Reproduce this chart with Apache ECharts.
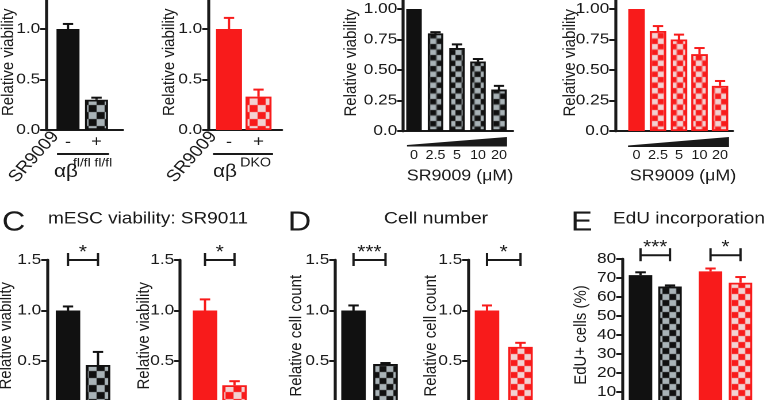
<!DOCTYPE html>
<html>
<head>
<meta charset="utf-8">
<script src="https://cdn.jsdelivr.net/npm/echarts@6.0.0/dist/echarts.min.js"></script>
<style>
  html, body { margin: 0; padding: 0; background: #fff; overflow: hidden; }
  /* the source figure is stretched a little horizontally, so the chart is drawn narrower and scaled */
  #main { width: 670px; height: 400px; transform: scaleX(1.15); transform-origin: 0 0; }
</style>
</head>
<body>
<div id="main"></div>
<script>
// ---- data ----
var aCats = ['-', '+'];
var aFlMean = [1.00, 0.30];
var aFlErr  = [0.05, 0.02];
var aDkoMean = [1.00, 0.33];
var aDkoErr  = [0.11, 0.07];

var bDoses = ['0', '2.5', '5', '10', '20'];
var bFlMean = [1.00, 0.80, 0.68, 0.57, 0.34];
var bFlErr  = [0, 0.01, 0.03, 0.02, 0.03];
var bDkoMean = [1.00, 0.82, 0.75, 0.63, 0.37];
var bDkoErr  = [0, 0.04, 0.04, 0.05, 0.04];

var cFlMean = [1.00, 0.46];
var cFlErr  = [0.04, 0.13];
var cDkoMean = [1.00, 0.26];
var cDkoErr  = [0.11, 0.04];

var dFlMean = [1.00, 0.47];
var dFlErr  = [0.05, 0.01];
var dDkoMean = [1.00, 0.64];
var dDkoErr  = [0.05, 0.04];

var eMean = [71.5, 65.5, 73.5, 67.5];
var eErr  = [1.5, 0.6, 1.5, 3.0];

var cSig = ['*', '*'];
var dSig = ['***', '*'];
var eSig = ['***', '*'];

// ---- style ----
var S = 1.15;
function X(px) { return px / S; }
var FONT = '"Liberation Sans", Arial, Helvetica, sans-serif';
var INK = '#1a1a1a';
var K = {dark: '#111111', light: '#a9b3b7'};
var R = {dark: '#f81b1b', light: '#f2d2d2'};

function checker(tint, size) {
  var c = document.createElement('canvas');
  c.width = c.height = size * 2;
  var g = c.getContext('2d');
  g.fillStyle = tint.light; g.fillRect(0, 0, size * 2, size * 2);
  g.fillStyle = tint.dark;
  g.fillRect(0, 0, size, size);
  g.fillRect(size, size, size, size);
  return c;
}

var f1 = function (v) { return v.toFixed(1); };
var f2 = function (v) { return v === 0 ? '0.0' : v.toFixed(2); };
var f0 = function (v) { return String(v); };

// panel layout (pixel positions of the reference figure)
var panels = [
  {left: 46, right: 123, top: -21.5, bottom: 130, max: 1.5, step: 0.5, fmt: f1,
   centers: [68, 96.5], barW: 23, tints: [K, K], checks: [0, 1], sq: 7,
   mean: aFlMean, err: aFlErr, yName: 'Relative viability', nameGap: 29, nameShift: 8,
   xCats: aCats, xSize: 16, xMargin: 4},
  {left: 208, right: 282, top: -21.5, bottom: 130, max: 1.5, step: 0.5, fmt: f1,
   centers: [229, 258.5], barW: 26, tints: [R, R], checks: [0, 1], sq: 7,
   mean: aDkoMean, err: aDkoErr, yName: 'Relative viability', nameGap: 30, nameShift: 8,
   xCats: aCats, xSize: 16, xMargin: 4},
  {left: 403, right: 513, top: -21.5, bottom: 131, max: 1.25, step: 0.25, fmt: f2,
   centers: [414, 435.5, 457, 478, 499], barW: 15.5, tints: [K, K, K, K, K], checks: [0, 1, 1, 1, 1], sq: 5.5,
   mean: bFlMean, err: bFlErr, yName: 'Relative viability', nameGap: 43, nameShift: 8,
   xCats: bDoses, xSize: 12.5, xMargin: 18, xName: 'SR9009 (\u03bcM)', xNameShift: 2},
  {left: 615, right: 733, top: -21.5, bottom: 131, max: 1.25, step: 0.25, fmt: f2,
   centers: [636.5, 658, 679, 699.5, 720], barW: 16.5, tints: [R, R, R, R, R], checks: [0, 1, 1, 1, 1], sq: 5.5,
   mean: bDkoMean, err: bDkoErr, yName: 'Relative viability', nameGap: 36, nameShift: 8,
   xCats: bDoses, xSize: 12.5, xMargin: 18, xName: 'SR9009 (\u03bcM)', xNameShift: 9},
  {left: 47, right: 123, top: 260, bottom: 411.5, max: 1.5, step: 0.5, fmt: f1,
   centers: [68, 98], barW: 24.5, tints: [K, K], checks: [0, 1], sq: 7,
   mean: cFlMean, err: cFlErr, yName: 'Relative viability', nameGap: 32, nameShift: 0,
   sig: {pairs: [[0, 1]], labels: [cSig[0]], level: 1.5}},
  {left: 180, right: 260, top: 260, bottom: 411.5, max: 1.5, step: 0.5, fmt: f1,
   centers: [205, 234.5], barW: 24.5, tints: [R, R], checks: [0, 1], sq: 7,
   mean: cDkoMean, err: cDkoErr, yName: 'Relative viability', nameGap: 27, nameShift: 0,
   sig: {pairs: [[0, 1]], labels: [cSig[1]], level: 1.5}},
  {left: 335, right: 410, top: 260, bottom: 411.5, max: 1.5, step: 0.5, fmt: f1,
   centers: [353.5, 385.5], barW: 24.5, tints: [K, K], checks: [0, 1], sq: 6,
   mean: dFlMean, err: dFlErr, yName: 'Relative cell count', nameGap: 30, nameShift: 0,
   sig: {pairs: [[0, 1]], labels: [dSig[0]], level: 1.5}},
  {left: 468, right: 545, top: 260, bottom: 411.5, max: 1.5, step: 0.5, fmt: f1,
   centers: [487, 520.5], barW: 24.5, tints: [R, R], checks: [0, 1], sq: 6,
   mean: dDkoMean, err: dDkoErr, yName: 'Relative cell count', nameGap: 28, nameShift: 0,
   sig: {pairs: [[0, 1]], labels: [dSig[1]], level: 1.5}},
  {left: 622, right: 763, top: 259, bottom: 411, max: 80, step: 10, fmt: f0,
   centers: [640.5, 670, 710.5, 740.5], barW: 23.5, tints: [K, K, R, R], checks: [0, 1, 0, 1], sq: 6,
   mean: eMean, err: eErr, yName: 'EdU+ cells (%)', nameGap: 32, nameShift: 0,
   sig: {pairs: [[0, 1], [2, 3]], labels: eSig, level: 82}}
];

function errItem(params, api) {
  var x = api.value(0);
  var p0 = api.coord([x, api.value(1)]);
  var p1 = api.coord([x, api.value(2)]);
  var c = api.visual('color');
  return {type: 'group', children: [
    {type: 'line', shape: {x1: p0[0], y1: p0[1], x2: p1[0], y2: p1[1]}, style: {stroke: c, lineWidth: 2}},
    {type: 'line', shape: {x1: p1[0] - 4.5, y1: p1[1], x2: p1[0] + 4.5, y2: p1[1]}, style: {stroke: c, lineWidth: 2}}
  ]};
}

var grids = [], xAxes = [], yAxes = [], series = [];

panels.forEach(function (p, i) {
  var offs = p.centers.map(function (c) { return c - p.left; });

  grids.push({left: X(p.left), top: p.top, width: X(p.right - p.left), height: p.bottom - p.top,
    containLabel: false, outerBoundsMode: 'none'});

  xAxes.push({
    gridIndex: i, type: 'value', min: 0, max: p.right - p.left,
    axisLine: {show: true, onZero: false, lineStyle: {color: INK, width: 2}},
    axisTick: {show: false}, splitLine: {show: false},
    axisLabel: {
      show: !!p.xCats, customValues: offs, margin: p.xMargin || 8,
      color: INK, fontSize: p.xSize || 14, fontFamily: FONT,
      formatter: function (v) {
        var best = -1, d = 1e9;
        offs.forEach(function (o, k) { if (Math.abs(o - v) < d) { d = Math.abs(o - v); best = k; } });
        return d < 0.5 && p.xCats ? p.xCats[best] : '';
      }
    },
    name: p.xName || '', nameLocation: 'middle', nameGap: 37, nameMoveOverlap: false,
    nameTextStyle: {color: INK, fontSize: 15.5, fontFamily: FONT,
      padding: [0, 0, 0, 2 * X(p.xNameShift || 0)]}
  });

  yAxes.push({
    gridIndex: i, type: 'value', min: 0, max: p.max, interval: p.step,
    axisLine: {show: true, lineStyle: {color: INK, width: 2.6}},
    axisTick: {show: true, length: 5, lineStyle: {color: INK, width: 2}},
    axisLabel: {color: INK, fontSize: 15, fontFamily: FONT, margin: 5, formatter: p.fmt},
    splitLine: {show: false},
    name: p.yName, nameLocation: 'middle', nameRotate: 90, nameGap: X(p.nameGap), nameMoveOverlap: false,
    nameTextStyle: {color: INK, fontSize: 15, fontFamily: FONT, padding: [0, 2 * p.nameShift, 0, 0]}
  });

  series.push({
    type: 'bar', xAxisIndex: i, yAxisIndex: i, barWidth: X(p.barW), silent: true,
    data: p.mean.map(function (v, k) {
      var t = p.tints[k];
      var style = p.checks[k]
        ? {color: {image: checker(t, p.sq), repeat: 'repeat'}, borderColor: t.dark, borderWidth: 1.8}
        : {color: t.dark, borderWidth: 0};
      return {value: [offs[k], v], itemStyle: style};
    })
  });

  series.push({
    type: 'custom', xAxisIndex: i, yAxisIndex: i, z: 4, silent: true,
    encode: {x: 0, y: [1, 2]}, renderItem: errItem,
    data: p.mean.map(function (v, k) {
      return {value: [offs[k], v, v + p.err[k]], itemStyle: {color: p.tints[k].dark}};
    }).filter(function (d, k) { return p.err[k] > 0; })
  });

  if (p.sig) {
    var labels = p.sig.labels;
    series.push({
      type: 'custom', xAxisIndex: i, yAxisIndex: i, z: 5, silent: true,
      encode: {x: [0, 1], y: 2},
      data: p.sig.pairs.map(function (pr) { return [offs[pr[0]], offs[pr[1]], p.sig.level]; }),
      renderItem: function (params, api) {
        var y = api.value(2);
        var a = api.coord([api.value(0), y]);
        var b = api.coord([api.value(1), y]);
        var st = {stroke: INK, lineWidth: 2};
        return {type: 'group', children: [
          {type: 'line', shape: {x1: a[0], y1: a[1], x2: b[0], y2: b[1]}, style: st},
          {type: 'line', shape: {x1: a[0], y1: a[1] - 7, x2: a[0], y2: a[1] + 6}, style: st},
          {type: 'line', shape: {x1: b[0], y1: b[1] - 7, x2: b[0], y2: b[1] + 6}, style: st},
          {type: 'text', x: (a[0] + b[0]) / 2, y: a[1] - 7,
           style: {text: labels[params.dataIndex], fontSize: 18, fontFamily: FONT, fill: INK,
                   align: 'center', verticalAlign: 'middle', textAlign: 'center', textVerticalAlign: 'middle'}}
        ]};
      }
    });
  }
});

function txt(s, x, y, size, opt) {
  opt = opt || {};
  return {type: 'text', x: X(x), y: y, rotation: opt.rot || 0, silent: true,
    style: {text: s, fontSize: size, fontFamily: FONT, fill: INK,
      align: opt.align || 'left', textAlign: opt.align || 'left',
      verticalAlign: 'middle', textVerticalAlign: 'middle'}};
}
function ln(x1, y1, x2, y2) {
  return {type: 'line', silent: true, shape: {x1: X(x1), y1: y1, x2: X(x2), y2: y2},
    style: {stroke: INK, lineWidth: 2}};
}
function wedge(x1, x2, yTip, yTop, yBase) {
  return {type: 'polygon', silent: true,
    shape: {points: [[X(x1), yTip], [X(x2), yTop], [X(x2), yBase], [X(x1), yBase]]},
    style: {fill: INK}};
}

var graphics = [
  ln(57, 154, 109, 154), ln(213, 154, 273, 154),
  txt('SR9009', 34, 157, 16.5, {rot: 0.9, align: 'center'}),
  txt('SR9009', 192, 157, 16.5, {rot: 0.9, align: 'center'}),
  txt('\u03b1\u03b2', 54, 172, 18), txt('fl/fl fl/fl', 73, 163, 12),
  txt('\u03b1\u03b2', 213, 172, 18), txt('DKO', 240, 163, 12.5),
  wedge(407, 507, 145, 137, 146.5),
  wedge(628, 729, 145.5, 137, 147),
  txt('C', 2, 223, 28), txt('mESC viability: SR9011', 48, 219, 16.5),
  txt('D', 288, 223, 28), txt('Cell number', 384, 219, 16.8),
  txt('E', 571, 223, 28), txt('EdU incorporation', 613, 219, 16.5)
];

var chart = echarts.init(document.getElementById('main'), null, {renderer: 'canvas', devicePixelRatio: 2});
chart.setOption({
  animation: false,
  backgroundColor: '#ffffff',
  textStyle: {fontFamily: FONT},
  grid: grids,
  xAxis: xAxes,
  yAxis: yAxes,
  series: series,
  graphic: graphics
});
</script>
</body>
</html>
